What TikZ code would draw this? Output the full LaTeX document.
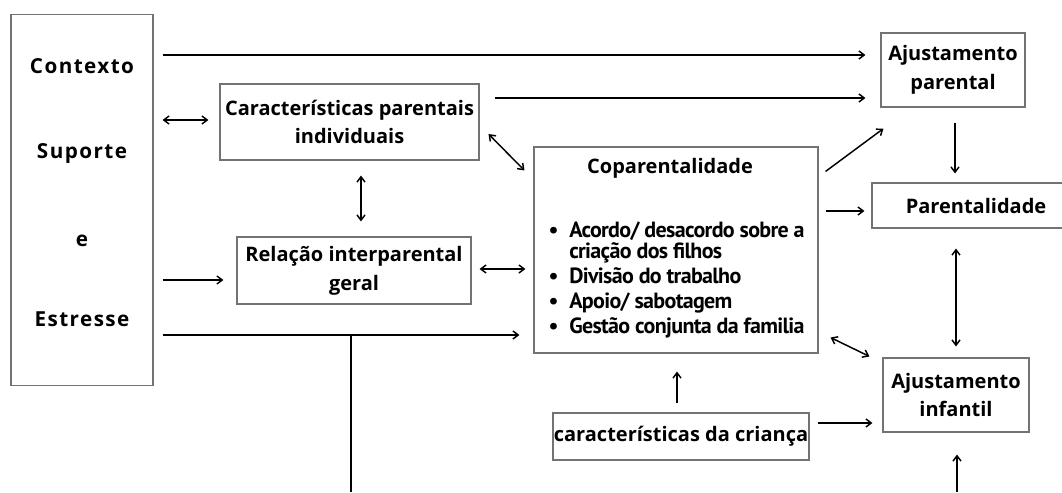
\documentclass[tikz,border=0pt]{standalone}
\usepackage{fontspec}
\setmainfont{Open Sans}
\newfontfamily\itemfont{PT Sans}
\usetikzlibrary{arrows.meta}

\begin{document}
\begin{tikzpicture}[x=0.75pt,y=-0.75pt,
  box/.style={draw=black!55, line width=0.8pt, align=center, inner sep=0pt,
    font=\bfseries\fontsize{15}{21.5}\selectfont},
  conn/.style={line width=1.1pt, -{Straight Barb[length=4pt,width=6pt]}},
  both/.style={line width=1.1pt, {Straight Barb[length=4pt,width=6pt]}-{Straight Barb[length=4pt,width=6pt]}},
  ctxlabel/.style={inner sep=0pt, font=\bfseries\fontsize{15.5}{17}\selectfont\addfontfeature{LetterSpace=7}},
  item/.style={anchor=base west, inner sep=0pt, align=left,
    font=\itemfont\bfseries\fontsize{16.5}{13.5}\selectfont\addfontfeature{LetterSpace=-3}}]
\useasboundingbox (0,0) rectangle (1062,492);
% Boxes
\node[box, minimum width=106.5pt, minimum height=278.25pt] (ctx) at (82,200) {};
\node[ctxlabel] (contexto) at (82,66) {Contexto};
\node[ctxlabel] (suporte) at (82,153) {Suporte};
\node[ctxlabel] (e) at (82,241) {e};
\node[ctxlabel] (estresse) at (82,319) {Estresse};
\node[box, minimum width=194.25pt, minimum height=57pt] (car) at (349.5,122) {Características parentais\\individuais};
\node[box, minimum width=175.5pt, minimum height=50.25pt] (rel) at (354,270.5) {Relação interparental\\geral};
\node[box, minimum width=213pt, minimum height=154.5pt] (cop) at (676,250) {};
\node[box, minimum width=108pt, minimum height=55.5pt] (ajp) at (953,70) {Ajustamento\\parental};
\node[box, minimum width=156pt, minimum height=33.75pt] (par) at (976,205.5) {Parentalidade};
\node[box, minimum width=109.5pt, minimum height=55.5pt] (aji) at (956,395) {Ajustamento\\infantil};
\node[box, minimum width=192pt, minimum height=35.25pt] (cri) at (681,436.5) {características da criança};
% Coparentalidade text
\node[inner sep=0pt, font=\bfseries\fontsize{15}{17}\selectfont] (coptitle) at (670,168) {Coparentalidade};
\node[item] (acordo) at (569,258) {\llap{\textbullet\hspace{8pt}}Acordo/ desacordo sobre a\\criação dos filhos};
\node[item] (divisao) at (569,283) {\llap{\textbullet\hspace{8pt}}Divisão do trabalho};
\node[item] (apoio) at (569,308) {\llap{\textbullet\hspace{8pt}}Apoio/ sabotagem};
\node[item] (gestao) at (569,333) {\llap{\textbullet\hspace{8pt}}Gestão conjunta da familia};
% Connectors
\draw[conn, shorten <=6.75pt, shorten >=11.25pt] (ctx.east |- 0,55) -- (ajp.west |- 0,55);
\draw[conn, shorten <=11.25pt, shorten >=11.25pt] (car.east |- 0,98) -- (ajp.west |- 0,98);
\draw[both, shorten <=6.75pt, shorten >=8.25pt] (ctx.east |- 0,120) -- (car.west |- 0,120);
\draw[both, shorten <=11.25pt, shorten >=11.25pt] (361,0 |- car.south) -- (361,0 |- rel.north);
\draw[conn, shorten <=6.75pt, shorten >=9.75pt] (ctx.east |- 0,280) -- (rel.west |- 0,280);
\draw[both, shorten <=6pt, shorten >=6pt] (rel.east |- 0,269) -- (cop.west |- 0,269);
\draw[conn, shorten <=6.75pt, shorten >=10.5pt] (ctx.east |- 0,335) -- (cop.west |- 0,335);
\coordinate (drop) at (351,492);
\draw[line width=1.1pt] (drop |- 0,335) -- (drop);
\draw[both] ([shift={(9,12)}]car.east) -- ([shift={(-9,24)}]cop.north west);
\draw[conn] ([shift={(7,25)}]cop.north east) -- ([shift={(3,21)}]ajp.south west);
\draw[conn, shorten <=5.25pt, shorten >=5.25pt] (cop.east |- 0,211) -- (par.west |- 0,211);
\draw[conn, shorten <=11.25pt, shorten >=6.75pt] (955,0 |- ajp.south) -- (955,0 |- par.north);
\draw[both, shorten <=15pt, shorten >=8.25pt] (956,0 |- par.south) -- (956,0 |- aji.north);
\draw[both] ([shift={(12,-16)}]cop.south east) -- ([shift={(-13,-1)}]aji.north west);
\draw[conn, shorten <=6.75pt, shorten >=13.5pt] (677,0 |- cri.north) -- (677,0 |- cop.south);
\draw[conn, shorten <=6pt, shorten >=7.5pt] (cri.east |- 0,423) -- (aji.west |- 0,423);
\coordinate (rise) at (957,492);
\draw[conn, shorten >=16.5pt] (rise) -- (rise |- aji.south);
\end{tikzpicture}
\end{document}
